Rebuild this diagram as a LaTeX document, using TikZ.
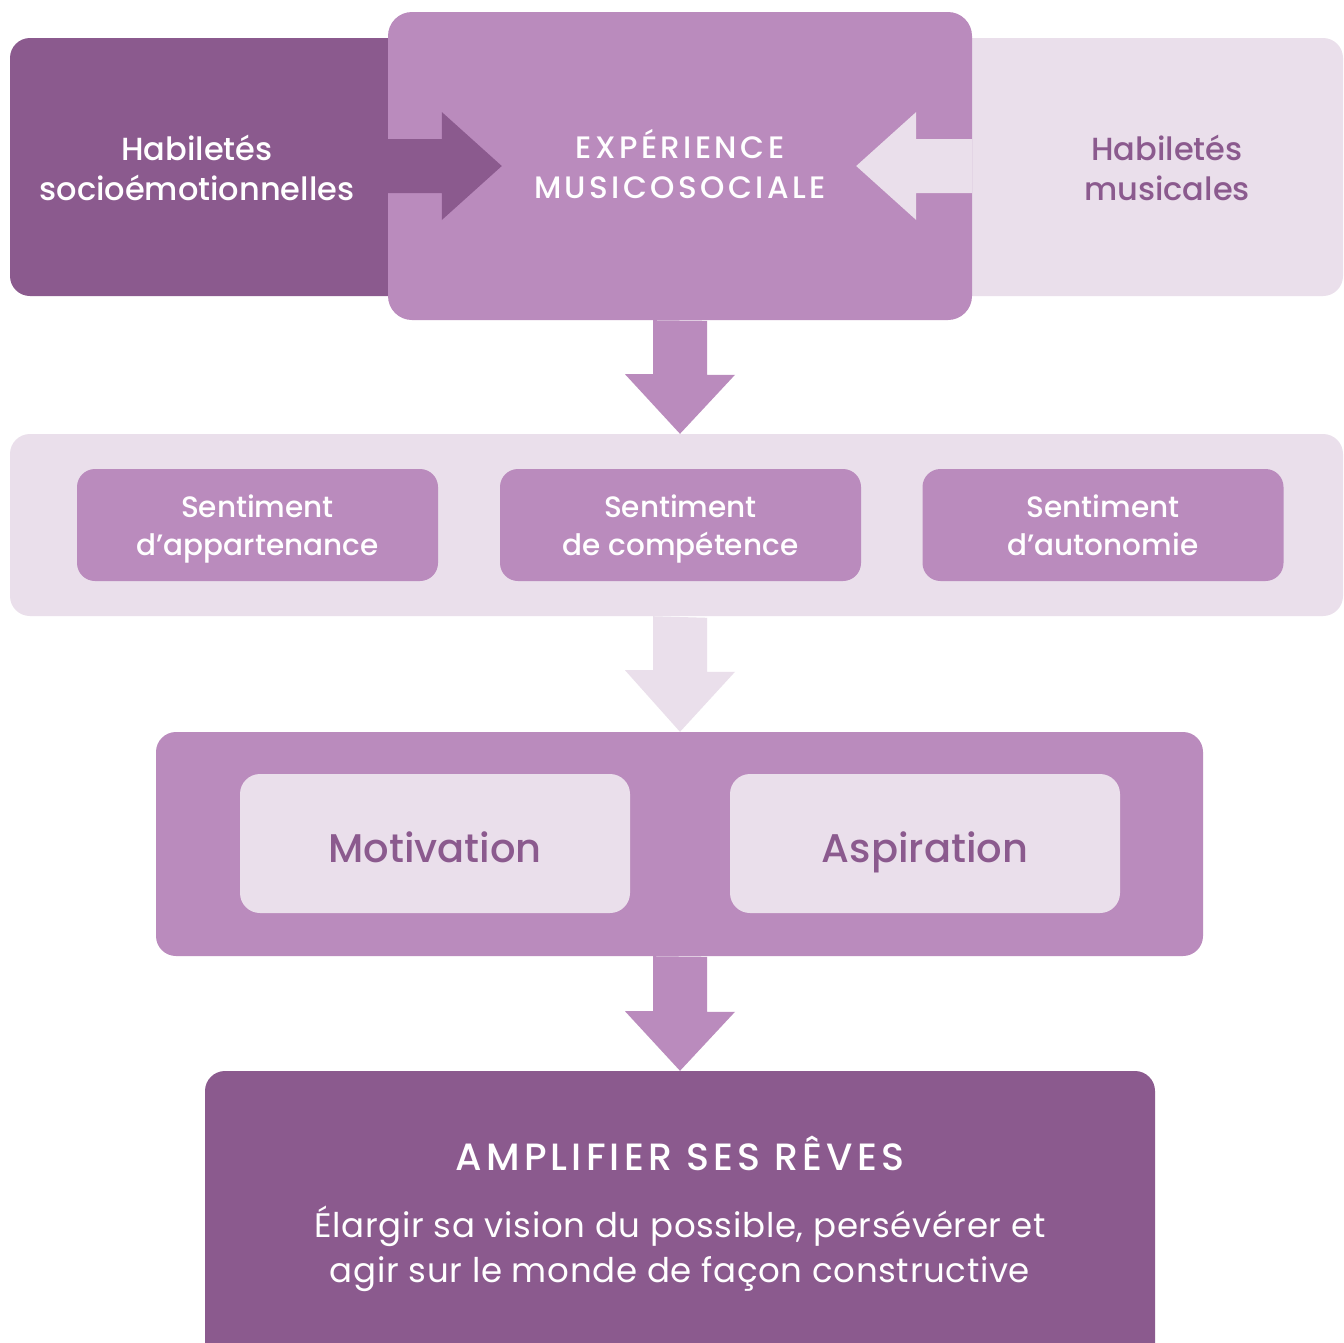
\documentclass[tikz,border=0pt]{standalone}
\usepackage{fontspec}
\setmainfont{Poppins}
\newfontfamily\medf{Poppins Medium}
\newfontfamily\medsp{Poppins Medium}[LetterSpace=11]
\newfontfamily\regf{Poppins}[LetterSpace=2]
\usetikzlibrary{calc}
\definecolor{dk}{HTML}{8B5A8E}
\definecolor{md}{HTML}{BA8BBD}
\definecolor{lt}{HTML}{EADFEB}
\begin{document}
\begin{tikzpicture}[x=1pt,y=-1pt,
  box/.style={rectangle, rounded corners=20pt, inner sep=0pt, draw=none},
  lbl/.style={align=center, inner sep=0pt, anchor=base},
  head/.style={lbl, font=\medf\fontsize{32}{40}\selectfont},
  caps/.style={lbl, font=\medsp\fontsize{31}{40}\selectfont},
  sent/.style={lbl, font=\medf\fontsize{29.5}{38}\selectfont, text=white},
  big/.style={lbl, font=\medf\fontsize{40}{44}\selectfont},
  bigcaps/.style={lbl, font=\medsp\fontsize{38}{44}\selectfont},
  body/.style={lbl, font=\regf\fontsize{34}{45}\selectfont, text=white}]
\clip (0,0) rectangle (1344,1342);
\fill[white] (0,0) rectangle (1344,1342);
% top row
\node[box, fill=dk, minimum width=410, minimum height=258] (left) at (215,167) {};
\node[box, fill=lt, minimum width=399, minimum height=258] (right) at (1143.5,167) {};
\node[box, fill=md, rounded corners=24pt, minimum width=584, minimum height=308] (center) at (680,166) {};
\node[head, text=white] (ltxt) at (197,200) {Habiletés\\socioémotionnelles};
\node[head, text=dk] (rtxt) at (1167,200) {Habiletés\\musicales};
\node[caps, text=white] (ctxt) at (680,198) {EXPÉRIENCE\\MUSICOSOCIALE};
% side arrows
\fill[dk] ($(center.west)+(0,-27)$) -- ++(54,0) -- ++(0,-27) -- ++(60,54) -- ++(-60,54) -- ++(0,-27) -- ++(-54,0) -- cycle;
\fill[lt] ($(center.east)+(0,-27)$) -- ++(-56,0) -- ++(0,-27) -- ++(-60,54) -- ++(60,54) -- ++(0,-27) -- ++(56,0) -- cycle;
% band
\node[box, fill=lt, minimum width=1333, minimum height=182] (band) at (676.5,525) {};
\node[box, fill=md, rounded corners=18pt, minimum width=361, minimum height=112] (s1) at (257.5,525) {};
\node[box, fill=md, rounded corners=18pt, minimum width=361, minimum height=112] (s2) at (680.5,525) {};
\node[box, fill=md, rounded corners=18pt, minimum width=361, minimum height=112] (s3) at (1103,525) {};
\node[sent] (s1t) at (s1 |- 0,555) {Sentiment\\d’appartenance};
\node[sent] (s2t) at (s2 |- 0,555) {Sentiment\\de compétence};
\node[sent] (s3t) at (s3 |- 0,555) {Sentiment\\d’autonomie};
% arrow center -> band
\fill[md] ($(center.south)+(-27,0)$) -- ++(0,54) -- ++(-28,0) -- (band.north -| center.south) -- ++(55,-59) -- ++(-28,0) -- ++(0,-54) -- cycle;
% mid box
\node[box, fill=md, minimum width=1047, minimum height=224] (mid) at (679.5,844) {};
\node[box, fill=lt, minimum width=390, minimum height=139] (mot) at (435,843.5) {};
\node[box, fill=lt, minimum width=390, minimum height=139] (asp) at (925,843.5) {};
\node[big, text=dk] (mott) at (mot |- 0,862) {Motivation};
\node[big, text=dk] (aspt) at (asp |- 0,862) {Aspiration};
% arrow band -> mid
\fill[lt] ($(band.south -| center.south)+(-27,0)$) -- ++(0,54) -- ++(-28,0) -- (mid.north -| center.south) -- ++(55,-60) -- ++(-28,0) -- ++(0,-54) -- cycle;
% bottom box
\node[box, fill=dk, minimum width=950, minimum height=330] (bot) at (680,1236) {};
\node[bigcaps, text=white] (bt) at (680,1170) {AMPLIFIER SES RÊVES};
\node[body] (bb) at (680,1282) {Élargir sa vision du possible, persévérer et\\agir sur le monde de façon constructive};
% arrow mid -> bottom
\fill[md] ($(mid.south -| center.south)+(-27,0)$) -- ++(0,55) -- ++(-28,0) -- (bot.north -| center.south) -- ++(55,-59) -- ++(-28,0) -- ++(0,-55) -- cycle;
\end{tikzpicture}
\end{document}
